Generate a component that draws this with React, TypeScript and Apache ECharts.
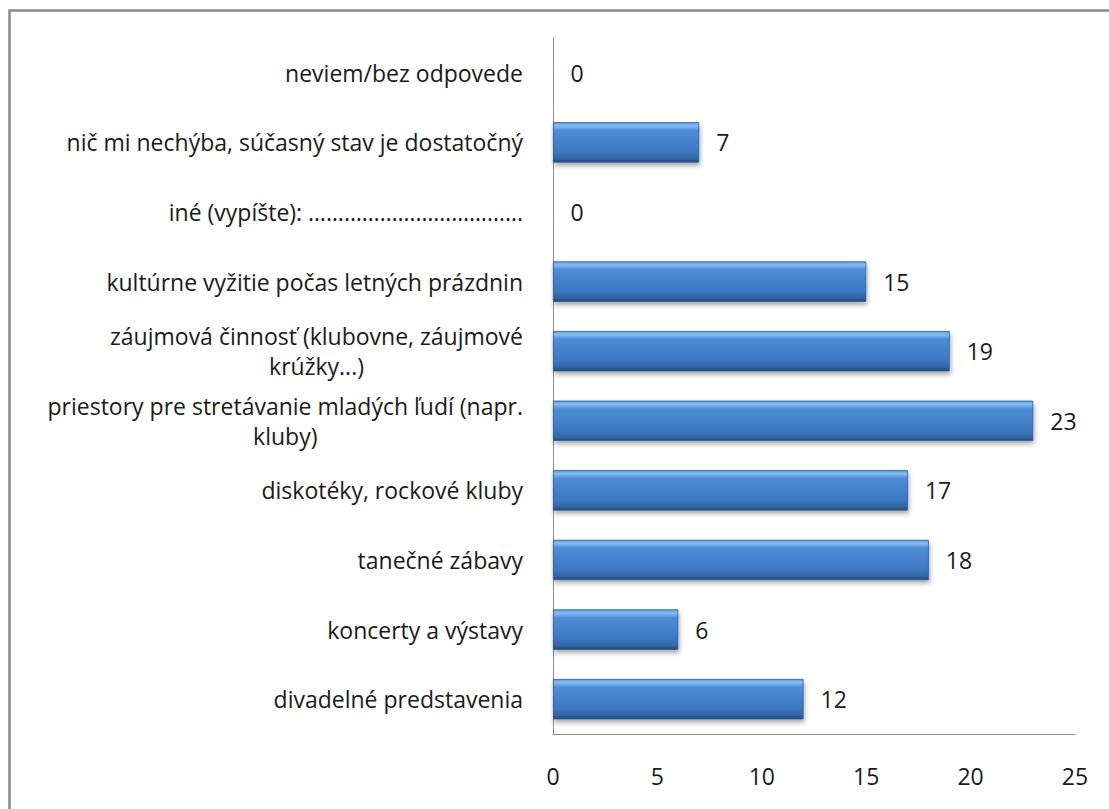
import React, { useEffect, useRef } from "react";
import * as echarts from "echarts";

const categories: string[] = [
  "divadelné predstavenia",
  "koncerty a výstavy",
  "tanečné zábavy",
  "diskotéky, rockové kluby",
  "priestory pre stretávanie mladých ľudí (napr.\nkluby)",
  "záujmová činnosť (klubovne, záujmové\nkrúžky...)",
  "kultúrne vyžitie počas letných prázdnin",
  "iné (vypíšte): ……………………………...",
  "nič mi nechýba, súčasný stav je dostatočný",
  "neviem/bez odpovede",
];

const values: number[] = [12, 6, 18, 17, 23, 19, 15, 0, 7, 0];

const xTicks = { min: 0, max: 25, interval: 5 };

const FONT = "'Open Sans', Lato, sans-serif";
const FS = 23;

export default function App() {
  const ref = useRef<HTMLDivElement>(null);
  useEffect(() => {
    if (!ref.current) return;
    const chart = echarts.init(ref.current, undefined, { renderer: "svg" });
    chart.setOption({
      animation: false,
      backgroundColor: "#ffffff",
      textStyle: { fontFamily: FONT },
      graphic: [
        {
          type: "rect",
          shape: { x: 9.5, y: 10.5, width: 1300, height: 1000 },
          style: { fill: "none", stroke: "#8a8a8a", lineWidth: 2.5 },
          silent: true,
          z: 100,
        },
      ],
      grid: { left: 553, right: 34, top: 38, bottom: 75, containLabel: false },
      xAxis: {
        type: "value",
        min: xTicks.min,
        max: xTicks.max,
        interval: xTicks.interval,
        splitLine: { show: false },
        axisLine: { show: true, lineStyle: { color: "#8c8c8c", width: 1 } },
        axisTick: { show: false },
        axisLabel: {
          margin: 30,
          fontSize: FS,
          color: "#1a1a1a",
          fontFamily: FONT,
        },
      },
      yAxis: {
        type: "category",
        data: categories,
        axisLine: { show: true, lineStyle: { color: "#8c8c8c", width: 1 } },
        axisTick: { show: false },
        axisLabel: {
          margin: 30,
          interval: 0,
          formatter: (v: string) =>
            v
              .split("\n")
              .map((l) => `{c|${l}}`)
              .join("\n"),
          rich: {
            c: {
              align: "center",
              fontSize: FS,
              lineHeight: 30,
              color: "#1a1a1a",
              fontFamily: FONT,
            },
          },
        },
      },
      series: [
        {
          type: "bar",
          data: values,
          barCategoryGap: "42%",
          itemStyle: {
            color: new echarts.graphic.LinearGradient(0, 0, 0, 1, [
              { offset: 0, color: "#5f9de0" },
              { offset: 0.08, color: "#86bdf0" },
              { offset: 0.2, color: "#4f8dd6" },
              { offset: 0.75, color: "#3b76c2" },
              { offset: 0.92, color: "#30649f" },
              { offset: 1, color: "#1f4677" },
            ]),
            borderColor: "#2d5b94",
            borderWidth: 0.8,
            shadowColor: "rgba(0,0,0,0.35)",
            shadowBlur: 5,
            shadowOffsetY: 3,
            shadowOffsetX: 1,
          },
          label: {
            show: true,
            position: "right",
            distance: 17,
            fontSize: FS,
            color: "#1a1a1a",
            fontFamily: FONT,
          },
        },
      ],
    });
    return () => chart.dispose();
  }, []);
  return (
    <div
      ref={ref}
      style={{ position: "fixed", left: 0, top: 0, width: 1109, height: 809 }}
    />
  );
}
